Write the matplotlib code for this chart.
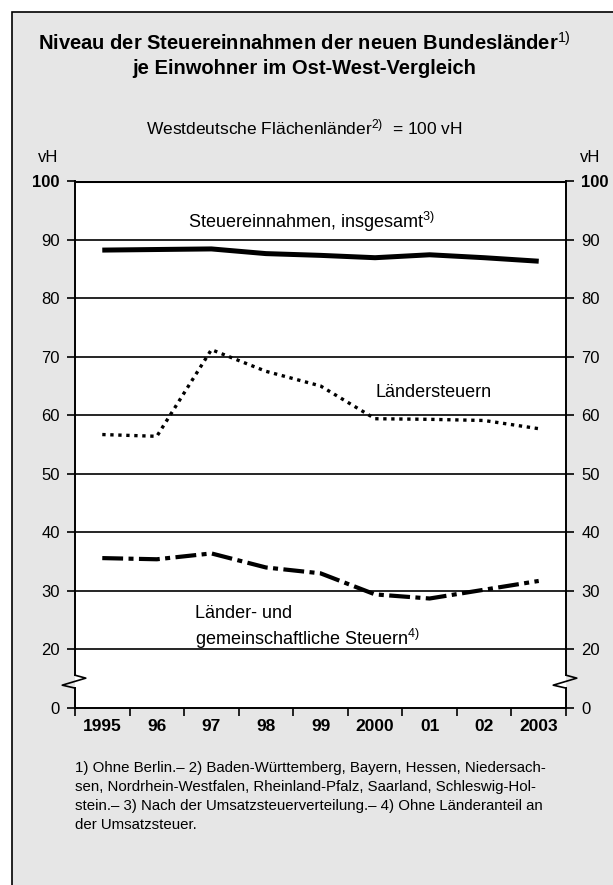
import matplotlib.pyplot as plt
import matplotlib.patches as patches
import matplotlib.transforms as mtransforms

plt.rcParams['font.family'] = ['Liberation Sans', 'DejaVu Sans']
plt.rcParams['mathtext.fontset'] = 'custom'
plt.rcParams['mathtext.rm'] = 'Liberation Sans'
plt.rcParams['mathtext.it'] = 'Liberation Sans'

years = ['1995', '96', '97', '98', '99', '2000', '01', '02', '2003']
total = [88.2, 88.3, 88.4, 87.6, 87.3, 86.9, 87.4, 86.9, 86.3]
laender = [56.7, 56.4, 71.2, 67.5, 65.0, 59.4, 59.3, 59.1, 57.7]
gemeinsam = [35.6, 35.4, 36.4, 34.0, 33.0, 29.4, 28.7, 30.2, 31.7]
yticks = [20, 30, 40, 50, 60, 70, 80, 90, 100]

W, H = 613, 885
fig = plt.figure(figsize=(W / 100, H / 100), dpi=100)
fig.patch.set_facecolor('white')

# grey panel with black frame on left/top
bg = '#e6e6e6'
fig.patches.append(patches.Rectangle((12 / W, -0.1), 1.2, (H - 12) / H + 0.1,
                                     transform=fig.transFigure, facecolor=bg,
                                     edgecolor='black', linewidth=1.2, zorder=-10))

ax = fig.add_axes([75 / W, (H - 708) / H, (566 - 75) / W, (708 - 181) / H])
ax.set_facecolor('white')
x = list(range(len(years)))

ax.plot(x, total, color='black', lw=3.6, solid_capstyle='butt', zorder=3)
ax.plot(x, laender, color='black', lw=2.4, linestyle=(0, (1.0, 1.4)), zorder=3)
ax.plot(x, gemeinsam, color='black', lw=3.0, linestyle=(0, (5, 1.3, 1.2, 1.3)), zorder=3)

ax.set_xlim(-0.5, len(years) - 0.5)
ax.set_ylim(10, 100)
for v in yticks[:-1]:
    ax.axhline(v, color='black', lw=1.2, zorder=1)

for s in ax.spines.values():
    s.set_visible(False)
ax.axhline(100, color='black', lw=2.2, zorder=4)
ax.axhline(10, color='black', lw=1.4, zorder=4, clip_on=False)

# y axes with zigzag break
trans_l = mtransforms.blended_transform_factory(ax.transAxes, ax.transData)
for xs in (0, 1):
    ax.plot([xs, xs], [15.6, 100], color='black', lw=1.4, transform=trans_l, clip_on=False)
    ax.plot([xs, xs], [10, 13.4], color='black', lw=1.4, transform=trans_l, clip_on=False)
    ax.plot([xs, xs + 0.022, xs - 0.026, xs], [15.6, 15.1, 13.9, 13.4], color='black',
            lw=1.2, transform=trans_l, clip_on=False, zorder=5)

ax.set_yticks([10] + yticks)
ax.set_yticklabels(['0'] + [str(v) for v in yticks])
ax.tick_params(axis='y', which='both', left=True, right=True, labelleft=True,
               labelright=True, length=6, width=1.2, direction='out',
               labelsize=12, pad=5)
for t in ax.yaxis.get_major_ticks():
    if t.label1.get_text() == '100':
        t.label1.set_fontweight('bold')
        t.label2.set_fontweight('bold')

ax.set_xticks(x)
ax.set_xticklabels(years, fontweight='bold', fontsize=12.5)
ax.set_xticks([i - 0.5 for i in range(len(years) + 1)], minor=True)
ax.tick_params(axis='x', which='major', length=0, pad=8)
ax.tick_params(axis='x', which='minor', length=6, width=1.2, direction='out')

# series labels
ax.text(3.83, 93.0, r'Steuereinnahmen, insgesamt$^{3)}$', fontsize=13, ha='center', va='center')
ax.text(5.0, 63.8, 'Ländersteuern', fontsize=13, ha='left', va='center')
ax.text(1.7, 26.2, 'Länder- und', fontsize=13, ha='left', va='center')
ax.text(1.7, 21.8, r'gemeinschaftliche Steuern$^{4)}$', fontsize=13, ha='left', va='center')

# titles
fig.text(0.497, 1 - 43 / H, r'Niveau der Steuereinnahmen der neuen Bundesländer$^{1)}$',
         fontsize=14.5, fontweight='bold', ha='center', va='center')
fig.text(0.497, 1 - 68 / H, 'je Einwohner im Ost-West-Vergleich',
         fontsize=14.5, fontweight='bold', ha='center', va='center')
fig.text(0.497, 1 - 127 / H, r'Westdeutsche Flächenländer$^{2)}$  = 100 vH',
         fontsize=12.5, ha='center', va='center')
fig.text(38 / W, 1 - 157 / H, 'vH', fontsize=12, ha='left', va='center')
fig.text(590 / W, 1 - 157 / H, 'vH', fontsize=12, ha='center', va='center')

foot = ('1) Ohne Berlin.– 2) Baden-Württemberg, Bayern, Hessen, Niedersach-\n'
        'sen, Nordrhein-Westfalen, Rheinland-Pfalz, Saarland, Schleswig-Hol-\n'
        'stein.– 3) Nach der Umsatzsteuerverteilung.– 4) Ohne Länderanteil an\n'
        'der Umsatzsteuer.')
fig.text(75 / W, 1 - 761 / H, foot, fontsize=10.8, ha='left', va='top', linespacing=1.45)

fig.savefig('out.png', dpi=100)
